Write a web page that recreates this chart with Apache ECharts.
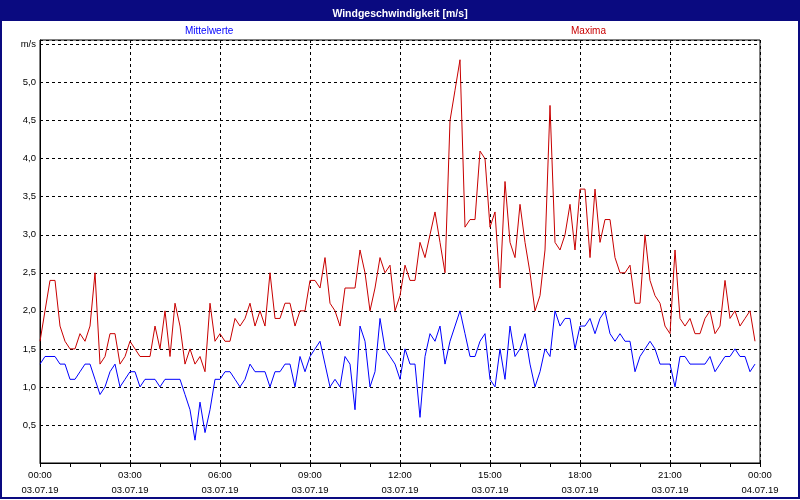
<!DOCTYPE html>
<html>
<head>
<meta charset="utf-8">
<script src="https://cdn.jsdelivr.net/npm/echarts@6/dist/echarts.min.js"></script>
<style>html,body{margin:0;padding:0;background:#fff}#c{width:800px;height:500px}</style>
</head>
<body>
<div id="c"></div>
<script>
const titleText = 'Windgeschwindigkeit [m/s]';
const seriesNames = ['Mittelwerte', 'Maxima'];
const stepMinutes = 10;
const xLabels = ['00:00\n03.07.19','03:00\n03.07.19','06:00\n03.07.19','09:00\n03.07.19','12:00\n03.07.19','15:00\n03.07.19','18:00\n03.07.19','21:00\n03.07.19','00:00\n04.07.19'];
const yLabels = ['', '0,5','1,0','1,5','2,0','2,5','3,0','3,5','4,0','4,5','5,0','m/s'];

const mittelwerte = [
1.3,1.4,1.4,1.4,1.3,1.3,1.1,1.1,1.2,1.3,1.3,1.1,0.9,1.0,1.2,1.3,1.0,1.1,1.2,1.2,
1.0,1.1,1.1,1.1,1.0,1.1,1.1,1.1,1.1,0.9,0.7,0.3,0.8,0.4,0.7,1.1,1.1,1.2,1.2,1.1,
1.0,1.1,1.3,1.2,1.2,1.2,1.0,1.2,1.2,1.3,1.3,1.0,1.4,1.2,1.4,1.5,1.6,1.3,1.0,1.1,
1.0,1.4,1.3,0.7,1.8,1.6,1.0,1.2,1.9,1.5,1.4,1.3,1.1,1.5,1.3,1.3,0.6,1.4,1.7,1.6,
1.8,1.3,1.6,1.8,2.0,1.7,1.4,1.4,1.6,1.7,1.1,1.0,1.5,1.1,1.8,1.4,1.5,1.7,1.3,1.0,
1.2,1.5,1.4,2.0,1.8,1.9,1.9,1.5,1.8,1.8,1.9,1.7,1.9,2.0,1.7,1.6,1.7,1.6,1.6,1.2,
1.4,1.5,1.6,1.5,1.3,1.3,1.3,1.0,1.4,1.4,1.3,1.3,1.3,1.3,1.4,1.2,1.3,1.4,1.4,1.5,
1.4,1.4,1.2,1.3
];
const maxima = [
1.6,2.0,2.4,2.4,1.8,1.6,1.5,1.5,1.7,1.6,1.8,2.5,1.3,1.4,1.7,1.7,1.3,1.4,1.6,1.5,
1.4,1.4,1.4,1.8,1.5,2.0,1.4,2.1,1.8,1.3,1.5,1.3,1.4,1.2,2.1,1.6,1.7,1.6,1.6,1.9,
1.8,1.9,2.1,1.8,2.0,1.8,2.5,1.9,1.9,2.1,2.1,1.8,2.0,2.0,2.4,2.4,2.3,2.7,2.1,2.0,
1.8,2.3,2.3,2.3,2.8,2.5,2.0,2.3,2.7,2.5,2.6,2.0,2.2,2.6,2.4,2.4,2.9,2.7,3.0,3.3,
2.9,2.5,4.5,4.9,5.3,3.1,3.2,3.2,4.1,4.0,3.1,3.3,2.3,3.7,2.9,2.7,3.4,2.9,2.5,2.0,
2.2,2.8,4.7,2.9,2.8,3.0,3.4,2.8,3.6,3.6,2.7,3.6,2.9,3.2,3.2,2.7,2.5,2.5,2.6,2.1,
2.1,3.0,2.4,2.2,2.1,1.8,1.7,2.8,1.9,1.8,1.9,1.7,1.7,1.9,2.0,1.7,1.8,2.4,1.9,2.0,
1.8,1.9,2.0,1.6
];

const toPairs = arr => arr.map((v, i) => [i * stepMinutes, v]);

const chart = echarts.init(document.getElementById('c'), null, {renderer: 'canvas'});
const FONT = 'Liberation Sans';
const option = {
  animation: false,
  backgroundColor: '#ffffff',
  title: {
    text: titleText,
    left: 'center',
    top: 4,
    textStyle: {color: '#ffffff', fontFamily: FONT, fontSize: 10.5, fontWeight: 'bold'}
  },
  graphic: [
    {type: 'rect', z: -10, silent: true, shape: {x: 0, y: 0, width: 800, height: 21}, style: {fill: '#0a0a80'}},
    {type: 'rect', z: 100, silent: true, shape: {x: 1, y: 1, width: 798, height: 497}, style: {fill: 'none', stroke: '#0a0a80', lineWidth: 2}},
    {type: 'text', left: 185, top: 26, style: {text: seriesNames[0], fill: '#0000ff', font: '10px "Liberation Sans"'}},
    {type: 'text', left: 571, top: 26, style: {text: seriesNames[1], fill: '#c80000', font: '10px "Liberation Sans"'}}
  ],
  grid: {left: 40, right: 40, top: 40, bottom: 37, show: true, borderColor: '#000', borderWidth: 1, backgroundColor: 'transparent'},
  xAxis: {
    type: 'value', min: 0, max: 1440, interval: 180,
    axisLine: {show: true, lineStyle: {color: '#000', width: 1}},
    axisTick: {show: true, length: 4, lineStyle: {color: '#000'}},
    minorTick: {show: true, splitNumber: 3, length: 4, lineStyle: {color: '#000'}},
    splitLine: {show: true, lineStyle: {color: '#000', type: [3, 3], width: 1}},
    axisLabel: {
      margin: 5, color: '#000', fontFamily: FONT, fontSize: 9.5, lineHeight: 15,
      formatter: v => xLabels[Math.round(v / 180)] || ''
    }
  },
  yAxis: {
    type: 'value', min: 0, max: 5.56, interval: 0.5,
    axisLine: {show: true, lineStyle: {color: '#000', width: 1}},
    axisTick: {show: false},
    splitLine: {show: true, lineStyle: {color: '#000', type: [3, 3], width: 1}},
    axisLabel: {
      margin: 4, color: '#000', fontFamily: FONT, fontSize: 9.5,
      formatter: v => {
        const k = Math.round(v / 0.5);
        if (Math.abs(v - k * 0.5) > 1e-6) return '';
        return yLabels[k] || '';
      }
    }
  },
  series: [
    {name: seriesNames[0], type: 'line', data: toPairs(mittelwerte), showSymbol: false, symbol: 'none',
     lineStyle: {color: '#0000ff', width: 1}, itemStyle: {color: '#0000ff'}, z: 3},
    {name: seriesNames[1], type: 'line', data: toPairs(maxima), showSymbol: false, symbol: 'none',
     lineStyle: {color: '#c80000', width: 1}, itemStyle: {color: '#c80000'}, z: 2}
  ]
};
chart.setOption(option);
</script>
</body>
</html>
